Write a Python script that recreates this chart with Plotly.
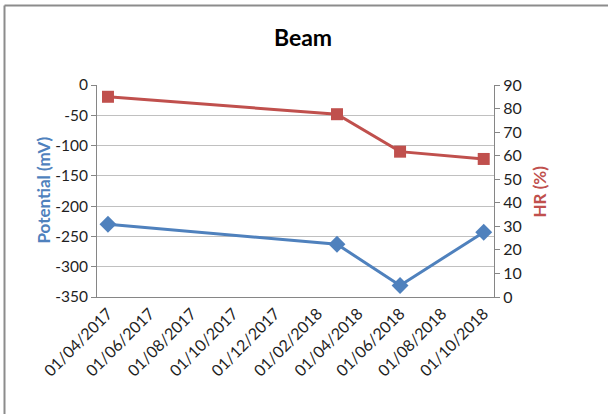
import plotly.graph_objects as go

# Inspection dates and readings for the beam
dates = ["2017-04-01", "2018-03-01", "2018-06-01", "2018-10-01"]
potential_mv = [-230, -263, -331, -243]
hr_pct = [85, 77.6, 61.7, 58.6]

# Potential axis ticks, labelled with a plain hyphen
potential_ticks = [0, -50, -100, -150, -200, -250, -300, -350]
potential_tick_text = ["0", "-50", "-100", "-150", "-200", "-250", "-300", "-350"]

blue = "#4F81BD"
red = "#C0504D"
axis_grey = "#868686"
grid_grey = "#C0C0C0"
font_family = "Lato, 'Open Sans', sans-serif"
tick_colour = "#1F1F1F"

fig = go.Figure()

fig.add_trace(go.Scatter(
    x=dates, y=potential_mv, name="Potential (mV)",
    mode="lines+markers",
    line=dict(color=blue, width=3),
    marker=dict(symbol="diamond", size=13, color=blue),
    yaxis="y",
))

fig.add_trace(go.Scatter(
    x=dates, y=hr_pct, name="HR (%)",
    mode="lines+markers",
    line=dict(color=red, width=3),
    marker=dict(symbol="square", size=12, color=red),
    yaxis="y2",
))

fig.update_layout(
    width=608, height=414,
    margin=dict(l=97, r=114, t=85, b=117),
    paper_bgcolor="white",
    plot_bgcolor="white",
    showlegend=False,
    font=dict(family=font_family, size=16, color=tick_colour),
    title=dict(
        text="<b>Beam</b>", x=0.5 + 11.5 / 608, xref="paper", xanchor="center",
        y=1 - 38 / 414, yref="container", yanchor="middle",
        font=dict(size=23, color="black", family=font_family),
    ),
    xaxis=dict(
        type="date",
        range=["2017-03-16", "2018-10-16"],
        tick0="2017-04-01", dtick="M2",
        tickformat="%d/%m/%Y",
        tickangle=-45,
        showgrid=False,
        showline=True, linecolor=axis_grey, linewidth=1,
        ticks="",
        zeroline=False,
        tickfont=dict(size=16, color=tick_colour),
    ),
    yaxis=dict(
        range=[-350, 0],
        tickmode="array", tickvals=potential_ticks, ticktext=potential_tick_text,
        showgrid=True, gridcolor=grid_grey, gridwidth=1,
        showline=True, linecolor=axis_grey, linewidth=1,
        ticks="outside", ticklen=5, tickcolor=axis_grey,
        zeroline=False,
        tickfont=dict(size=15.5, color=tick_colour),
    ),
    yaxis2=dict(
        range=[0, 90], dtick=10,
        overlaying="y", side="right",
        showgrid=False,
        showline=True, linecolor=axis_grey, linewidth=1,
        ticks="outside", ticklen=5, tickcolor=axis_grey,
        zeroline=False,
        tickfont=dict(size=16, color=tick_colour),
    ),
)

# Axis titles
fig.add_annotation(
    text="<b>Potential (mV)</b>", textangle=-90,
    xref="paper", yref="paper",
    x=(30 - 97) / 397, y=(297 - 190) / 212, showarrow=False,
    font=dict(size=17, color=blue, family=font_family),
)
fig.add_annotation(
    text="<b>HR (%)</b>", textangle=-90,
    xref="paper", yref="paper",
    x=(551 - 97) / 397, y=(297 - 192) / 212, showarrow=False,
    font=dict(size=17, color=red, family=font_family),
)

# Chart frame along the top and left edges
frame = dict(color="#8C8C8C", width=2)
fig.add_shape(type="line", xref="paper", yref="paper",
              x0=(4.5 - 97) / 397, x1=(610 - 97) / 397,
              y0=(297 - 5.5) / 212, y1=(297 - 5.5) / 212, line=frame)
fig.add_shape(type="line", xref="paper", yref="paper",
              x0=(4.5 - 97) / 397, x1=(4.5 - 97) / 397,
              y0=(297 - 5.5) / 212, y1=(297 - 420) / 212, line=frame)

fig.write_html("out.html")
